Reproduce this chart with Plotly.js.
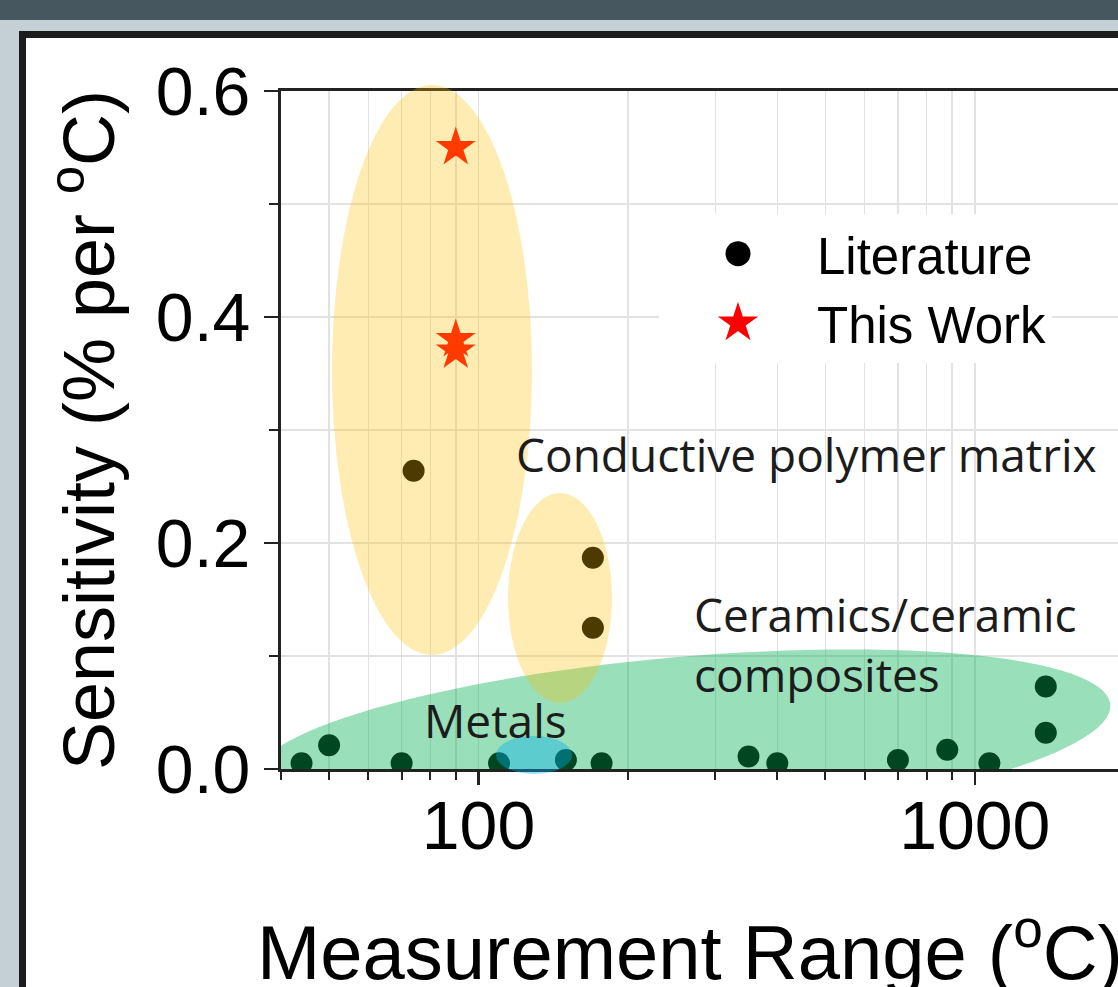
<!DOCTYPE html>
<html><head><meta charset="utf-8">
<script src="https://cdn.plot.ly/plotly-3.0.1.min.js"></script>
<style>
html,body{margin:0;padding:0;width:1118px;height:987px;overflow:hidden;background:#c5d0d6;}
#bar{position:absolute;left:0;top:0;width:1118px;height:20px;background:#46575f;}
#frame{position:absolute;left:19px;top:31px;width:1300px;height:1000px;border:7px solid #1c1c1c;background:#fff;box-sizing:border-box;}
#chart{position:absolute;left:26px;top:38px;width:1300px;height:949px;}
</style></head>
<body><div id="bar"></div><div id="frame"></div><div id="chart"></div>
<script>
// ---- data ----
const literatureX = [44, 50, 70, 110, 150, 177, 350, 400, 700, 880, 1070, 1390, 1390, 74, 170, 170];
const literatureY = [0.005, 0.021, 0.005, 0.005, 0.008, 0.005, 0.011, 0.005, 0.008, 0.017, 0.005, 0.073, 0.032, 0.264, 0.187, 0.125];
const thisWorkX = [90, 90, 90];
const thisWorkY = [0.55, 0.38, 0.37];
const seriesNames = ['Literature', 'This Work'];
const xTickVals = [100, 1000];
const xTickText = ['100', '1000'];
const xMinorVals = [40, 50, 60, 70, 80, 90, 200, 300, 400, 500, 600, 700, 800, 900, 2000, 3000, 4000];
const regionLabels = ['Conductive polymer matrix', 'Ceramics/ceramic<br>composites', 'Metals'];

// ---- geometry (page pixels) ----
const DIV_LEFT = 26, DIV_TOP = 38, W = 1300, H = 949;
const PL = 281, PT = 91, PB = 769, PW = 1000;
const PH = PB - PT;
const PX_PER_DECADE = 496.3;
const XLOG0 = Math.log10(40);
const xRange = [XLOG0, XLOG0 + PW / PX_PER_DECADE];
const yRange = [0, 0.6];

function paperX(px) { return (px - PL) / PW; }
function paperY(py) { return (PB - py) / PH; }
function dataX(px) { return Math.pow(10, XLOG0 + (px - PL) / PX_PER_DECADE); }
function dataY(py) { return (PB - py) / PH * (yRange[1] - yRange[0]); }

function ellipseShape(cx, cy, rx, ry, color, op) {
  return {type: 'circle', xref: 'paper', yref: 'paper',
    x0: paperX(cx - rx), x1: paperX(cx + rx), y0: paperY(cy + ry), y1: paperY(cy - ry),
    fillcolor: color, opacity: op, line: {width: 0}, layer: 'above'};
}
function rotatedEllipsePath(cx, cy, a, b, deg, color, op) {
  const t = deg * Math.PI / 180, c = Math.cos(t), s = Math.sin(t);
  let d = '';
  for (let i = 0; i <= 120; i++) {
    const p = i / 120 * 2 * Math.PI;
    const u = a * Math.cos(p), v = b * Math.sin(p);
    const px = cx + u * c + v * s;
    const py = cy - u * s + v * c;
    d += (i === 0 ? 'M' : 'L') + dataX(px).toFixed(4) + ',' + dataY(py).toFixed(5) + ' ';
  }
  d += 'Z';
  return {type: 'path', xref: 'x', yref: 'y', path: d, fillcolor: color, opacity: op, line: {width: 0}, layer: 'above'};
}

const gridC = '#e2e2e2';
const traces = [
  {x: literatureX, y: literatureY, name: seriesNames[0], type: 'scatter', mode: 'markers',
   marker: {symbol: 'circle', size: 22, color: '#000000', line: {width: 0}}},
  {x: thisWorkX, y: thisWorkY, name: seriesNames[1], type: 'scatter', mode: 'markers',
   marker: {symbol: 'star', size: 30, color: '#ff0000', line: {width: 0}}}
];

const annFont = {family: 'Open Sans, sans-serif', size: 46, color: '#1c1c1c'};
const layout = {
  width: W, height: H,
  margin: {l: PL - DIV_LEFT, r: W - (PL - DIV_LEFT) - PW, t: PT - DIV_TOP, b: H - (PB - DIV_TOP), pad: 0},
  paper_bgcolor: 'rgba(0,0,0,0)', plot_bgcolor: 'white',
  font: {family: 'Liberation Sans, Arial, sans-serif', color: '#000'},
  showlegend: true,
  xaxis: {type: 'log', range: xRange, tickmode: 'array', tickvals: xTickVals, ticktext: xTickText,
    ticks: 'outside', ticklen: 13, tickwidth: 2.5, tickcolor: '#222', tickfont: {size: 68, color: '#000'},
    ticklabelstandoff: -18,
    showline: true, linecolor: '#222', linewidth: 3, mirror: true,
    showgrid: true, gridcolor: gridC, gridwidth: 1.5, zeroline: false,
    minor: {tickmode: 'array', tickvals: xMinorVals, ticks: 'outside', ticklen: 8, tickwidth: 2, tickcolor: '#222',
      showgrid: true, gridcolor: gridC, gridwidth: 1.5}},
  yaxis: {range: yRange, tickmode: 'linear', tick0: 0, dtick: 0.2, tickformat: '.1f',
    ticks: 'outside', ticklen: 14, tickwidth: 2.5, tickcolor: '#222', tickfont: {size: 68, color: '#000'},
    showline: true, linecolor: '#222', linewidth: 3,
    showgrid: true, gridcolor: gridC, gridwidth: 1.5, zeroline: false,
    minor: {dtick: 0.1, ticks: 'outside', ticklen: 9, tickwidth: 2, tickcolor: '#222', showgrid: true, gridcolor: gridC, gridwidth: 1.5},
    title: {text: 'Sensitivity (% per <sup>o</sup>C)', font: {size: 72, color: '#000'}, standoff: 18}},
  legend: {x: paperX(659), xanchor: 'left', y: paperY(214), yanchor: 'top', bgcolor: 'white', borderwidth: 0,
    font: {size: 51, color: '#000'}, itemwidth: 148},
  shapes: [
    rotatedEllipsePath(682, 742, 430, 85, 5, '#00b050', 0.4),
    ellipseShape(534, 755, 38, 19, '#00b0f0', 0.4),
    ellipseShape(432, 370, 100, 285, '#ffc000', 0.3),
    ellipseShape(560, 598, 52, 105, '#ffc000', 0.3)
  ],
  annotations: [
    {text: regionLabels[0], xref: 'paper', yref: 'paper', x: paperX(514), y: paperY(454), xanchor: 'left', yanchor: 'middle', showarrow: false, font: annFont},
    {text: regionLabels[1], xref: 'paper', yref: 'paper', x: paperX(692), y: paperY(644), xanchor: 'left', yanchor: 'middle', align: 'left', showarrow: false, font: annFont},
    {text: regionLabels[2], xref: 'paper', yref: 'paper', x: paperX(422), y: paperY(720), xanchor: 'left', yanchor: 'middle', showarrow: false, font: annFont},
    {text: 'Measurement Range (<sup>o</sup>C)', xref: 'paper', yref: 'paper', x: paperX(255), y: paperY(947), xanchor: 'left', yanchor: 'middle', showarrow: false,
     font: {family: 'Liberation Sans, Arial, sans-serif', size: 76, color: '#000'}}
  ]
};

Plotly.newPlot('chart', traces, layout, {displayModeBar: false, staticPlot: true}).then(function () {
  const scales = [1.56, 1.9];
  document.querySelectorAll('#chart .legend .traces').forEach(function (g, i) {
    g.querySelectorAll('.legendpoints path').forEach(function (p) {
      p.setAttribute('transform', (p.getAttribute('transform') || '') + ' scale(' + scales[i] + ')');
    });
  });
});
</script></body></html>
